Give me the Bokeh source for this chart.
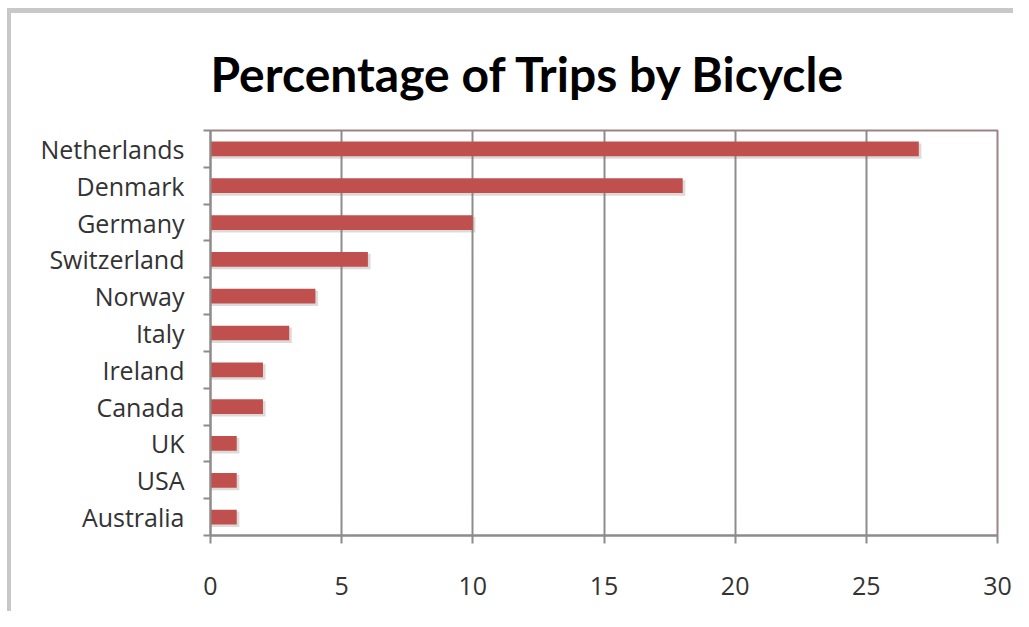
from bokeh.plotting import figure
from bokeh.models import FixedTicker, Range1d, ColumnDataSource
from bokeh.embed import file_html
from bokeh.resources import INLINE

countries = ["Netherlands", "Denmark", "Germany", "Switzerland", "Norway", "Italy",
             "Ireland", "Canada", "UK", "USA", "Australia"]
percent = [27, 18, 10, 6, 4, 3, 2, 2, 1, 1, 1]
x_ticks = [0, 5, 10, 15, 20, 25, 30]

n = len(countries)
ypos = [n - i - 0.5 for i in range(n)]
src = ColumnDataSource(dict(y=ypos, ys=[y - 0.06 for y in ypos], v=percent,
                            vs=[v + 0.1 for v in percent], name=countries))

p = figure(width=1006, height=603, output_backend="svg", toolbar_location=None,
           x_range=Range1d(0, 30), y_range=Range1d(0, n),
           min_border_left=199, min_border_right=20, min_border_top=117, min_border_bottom=81,
           styles={"border-left": "4px solid #c8c8c8", "border-top": "5px solid #c8c8c8",
                   "margin-left": "7px", "margin-top": "8px",
                   "box-sizing": "border-box"})

p.title.text = "Percentage of Trips by Bicycle"
p.title.align = "left"
p.title.text_font = "Lato"
p.title.text_font_style = "bold"
p.title.text_font_size = "48px"
p.title.text_color = "#000000"
p.title.standoff = 57

# soft drop shadow under each bar
p.hbar(y="ys", right="vs", left=0, height=0.42, source=src, fill_color="#8a7a7a",
       fill_alpha=0.28, line_color=None)
p.hbar(y="y", right="v", left=0, height=0.4, source=src, fill_color="#c0504d",
       line_color=None)

p.background_fill_color = "white"
p.outline_line_color = "#9c8486"
p.outline_line_width = 2

p.xgrid.ticker = FixedTicker(ticks=x_ticks)
p.xgrid.grid_line_color = "#8c8c8c"
p.xgrid.grid_line_width = 2
p.ygrid.grid_line_color = None

xa = p.xaxis[0]
xa.ticker = FixedTicker(ticks=x_ticks)
xa.axis_line_color = "#8c8c8c"
xa.axis_line_width = 2
xa.major_tick_line_color = "#8c8c8c"
xa.major_tick_line_width = 2
xa.major_tick_out = 8
xa.major_tick_in = 0
xa.major_label_standoff = 33
xa.major_label_text_font = "Open Sans"
xa.major_label_text_font_size = "25px"
xa.major_label_text_color = "#333333"

ya = p.yaxis[0]
ya.ticker = FixedTicker(ticks=ypos, minor_ticks=list(range(n + 1)))
ya.major_label_overrides = {y: c for y, c in zip(ypos, countries)}
ya.axis_line_color = "#8c8c8c"
ya.axis_line_width = 2
ya.major_tick_line_color = None
ya.major_tick_out = 0
ya.minor_tick_line_color = "#8c8c8c"
ya.minor_tick_line_width = 2
ya.minor_tick_out = 7
ya.minor_tick_in = 0
ya.major_label_standoff = 19
ya.major_label_text_font = "Open Sans"
ya.major_label_text_font_size = "25px"
ya.major_label_text_color = "#333333"

open("out.html", "w").write(file_html(p, INLINE))
